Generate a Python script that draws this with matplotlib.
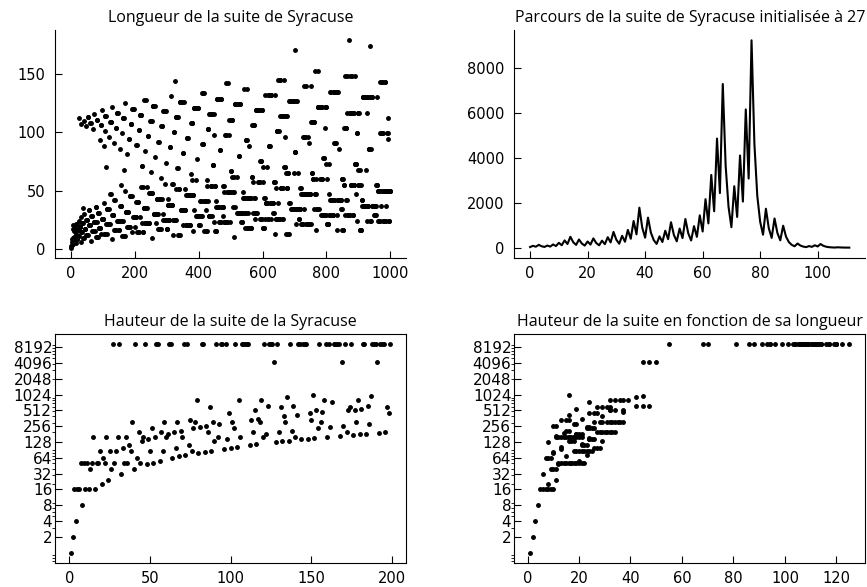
import matplotlib
matplotlib.use('Agg')
import matplotlib.pyplot as plt

# longueur (nombre de termes) de la suite pour n = 1 .. 999
longueurs = [
    1, 2, 8, 3, 6, 9, 17, 4, 20, 7,
    15, 10, 10, 18, 18, 5, 13, 21, 21, 8,
    8, 16, 16, 11, 24, 11, 112, 19, 19, 19,
    107, 6, 27, 14, 14, 22, 22, 22, 35, 9,
    110, 9, 30, 17, 17, 17, 105, 12, 25, 25,
    25, 12, 12, 113, 113, 20, 33, 20, 33, 20,
    20, 108, 108, 7, 28, 28, 28, 15, 15, 15,
    103, 23, 116, 23, 15, 23, 23, 36, 36, 10,
    23, 111, 111, 10, 10, 31, 31, 18, 31, 18,
    93, 18, 18, 106, 106, 13, 119, 26, 26, 26,
    26, 26, 88, 13, 39, 13, 101, 114, 114, 114,
    70, 21, 13, 34, 34, 21, 21, 34, 34, 21,
    96, 21, 47, 109, 109, 109, 47, 8, 122, 29,
    29, 29, 29, 29, 42, 16, 91, 16, 42, 16,
    16, 104, 104, 24, 117, 117, 117, 24, 24, 16,
    16, 24, 37, 24, 86, 37, 37, 37, 55, 11,
    99, 24, 24, 112, 112, 112, 68, 11, 50, 11,
    125, 32, 32, 32, 81, 19, 32, 32, 32, 19,
    19, 94, 94, 19, 45, 19, 45, 107, 107, 107,
    45, 14, 120, 120, 120, 27, 27, 27, 120, 27,
    19, 27, 40, 27, 27, 89, 89, 14, 40, 40,
    40, 14, 14, 102, 102, 115, 27, 115, 53, 115,
    115, 71, 71, 22, 53, 14, 14, 35, 35, 35,
    128, 22, 84, 22, 128, 35, 35, 35, 53, 22,
    22, 97, 97, 22, 22, 48, 48, 110, 48, 110,
    66, 110, 110, 48, 48, 9, 123, 123, 123, 30,
    30, 30, 79, 30, 123, 30, 22, 30, 30, 43,
    43, 17, 30, 92, 92, 17, 17, 43, 43, 17,
    43, 17, 61, 105, 105, 105, 43, 25, 30, 118,
    118, 118, 118, 118, 56, 25, 74, 25, 118, 17,
    17, 17, 43, 25, 38, 38, 38, 25, 25, 87,
    87, 38, 131, 38, 38, 38, 38, 56, 56, 12,
    25, 100, 100, 25, 25, 25, 144, 113, 51, 113,
    25, 113, 113, 69, 69, 12, 113, 51, 51, 12,
    12, 126, 126, 33, 126, 33, 126, 33, 33, 82,
    82, 20, 126, 33, 33, 33, 33, 33, 51, 20,
    46, 20, 46, 95, 95, 95, 46, 20, 20, 46,
    46, 20, 20, 46, 46, 108, 64, 108, 59, 108,
    108, 46, 46, 15, 33, 121, 121, 121, 121, 121,
    121, 28, 59, 28, 77, 28, 28, 121, 121, 28,
    20, 20, 20, 28, 28, 41, 41, 28, 41, 28,
    134, 90, 90, 90, 134, 15, 134, 41, 41, 41,
    41, 41, 33, 15, 59, 15, 54, 103, 103, 103,
    41, 116, 28, 28, 28, 116, 116, 54, 54, 116,
    28, 116, 54, 72, 72, 72, 98, 23, 116, 54,
    54, 15, 15, 15, 41, 36, 129, 36, 129, 36,
    36, 129, 129, 23, 36, 85, 85, 23, 23, 129,
    129, 36, 36, 36, 28, 36, 36, 54, 54, 23,
    49, 23, 23, 98, 98, 98, 142, 23, 49, 23,
    142, 49, 49, 49, 98, 111, 23, 49, 49, 111,
    111, 67, 67, 111, 62, 111, 36, 49, 49, 49,
    62, 10, 36, 124, 124, 124, 124, 124, 62, 31,
    124, 31, 124, 31, 31, 80, 80, 31, 31, 124,
    124, 31, 31, 23, 23, 31, 23, 31, 49, 44,
    44, 44, 137, 18, 44, 31, 31, 93, 93, 93,
    44, 18, 137, 18, 31, 44, 44, 44, 88, 18,
    44, 44, 44, 18, 18, 62, 62, 106, 57, 106,
    31, 106, 106, 44, 44, 26, 31, 31, 31, 119,
    119, 119, 31, 119, 57, 119, 119, 119, 119, 57,
    57, 26, 75, 75, 75, 26, 26, 119, 119, 18,
    57, 18, 70, 18, 18, 44, 44, 26, 132, 39,
    39, 39, 39, 39, 70, 26, 132, 26, 132, 88,
    88, 88, 132, 39, 26, 132, 132, 39, 39, 39,
    39, 39, 31, 39, 31, 57, 57, 57, 132, 13,
    52, 26, 26, 101, 101, 101, 39, 26, 145, 26,
    101, 26, 26, 145, 145, 114, 52, 52, 52, 114,
    114, 26, 26, 114, 52, 114, 145, 70, 70, 70,
    96, 13, 65, 114, 114, 52, 52, 52, 65, 13,
    65, 13, 39, 127, 127, 127, 39, 34, 127, 127,
    127, 34, 34, 127, 127, 34, 127, 34, 65, 83,
    83, 83, 171, 21, 34, 127, 127, 34, 34, 34,
    65, 34, 26, 34, 26, 34, 34, 52, 52, 21,
    47, 47, 47, 21, 21, 47, 47, 96, 34, 96,
    140, 96, 96, 47, 47, 21, 140, 21, 21, 47,
    47, 47, 96, 21, 91, 21, 47, 47, 47, 47,
    140, 109, 21, 65, 65, 109, 109, 60, 60, 109,
    34, 109, 153, 47, 47, 47, 60, 16, 34, 34,
    34, 122, 122, 122, 153, 122, 34, 122, 60, 122,
    122, 122, 122, 29, 122, 60, 60, 29, 29, 78,
    78, 29, 78, 29, 104, 122, 122, 122, 73, 29,
    60, 21, 21, 21, 21, 21, 73, 29, 47, 29,
    135, 42, 42, 42, 135, 29, 42, 42, 42, 29,
    29, 135, 135, 91, 135, 91, 42, 91, 91, 135,
    135, 16, 29, 135, 135, 42, 42, 42, 86, 42,
    42, 42, 42, 42, 42, 34, 34, 16, 60, 60,
    60, 16, 16, 55, 55, 104, 29, 104, 148, 104,
    104, 42, 42, 117, 148, 29, 29, 29, 29, 29,
    179, 117, 148, 117, 29, 55, 55, 55, 148, 117,
    117, 29, 29, 117, 117, 55, 55, 73, 148, 73,
    47, 73, 73, 99, 99, 24, 68, 117, 117, 55,
    55, 55, 117, 16, 68, 16, 55, 16, 16, 42,
    42, 37, 130, 130, 130, 37, 37, 130, 130, 37,
    130, 37, 68, 130, 130, 130, 117, 24, 130, 37,
    37, 86, 86, 86, 130, 24, 174, 24, 86, 130,
    130, 130, 37, 37, 37, 37, 37, 37, 37, 29,
    29, 37, 29, 37, 29, 55, 55, 55, 130, 24,
    50, 50, 50, 24, 24, 24, 143, 99, 50, 99,
    37, 99, 99, 143, 143, 24, 99, 50, 50, 24,
    24, 143, 143, 50, 24, 50, 37, 50, 50, 99,
    99, 112, 94, 24, 24, 50, 50, 50, 50,
]
entiers = list(range(1, 1000))

# parcours de la suite initialisee a 27
parcours_27 = [
    27, 82, 41, 124, 62, 31, 94, 47, 142, 71, 214, 107, 322, 161, 484, 242,
    121, 364, 182, 91, 274, 137, 412, 206, 103, 310, 155, 466, 233, 700, 350,
    175, 526, 263, 790, 395, 1186, 593, 1780, 890, 445, 1336, 668, 334, 167,
    502, 251, 754, 377, 1132, 566, 283, 850, 425, 1276, 638, 319, 958, 479,
    1438, 719, 2158, 1079, 3238, 1619, 4858, 2429, 7288, 3644, 1822, 911,
    2734, 1367, 4102, 2051, 6154, 3077, 9232, 4616, 2308, 1154, 577, 1732,
    866, 433, 1300, 650, 325, 976, 488, 244, 122, 61, 184, 92, 46, 23, 70,
    35, 106, 53, 160, 80, 40, 20, 10, 5, 16, 8, 4, 2, 1,
]
etapes_27 = list(range(len(parcours_27)))

# hauteur (valeur maximale) pour n = 1 .. 199
hauteurs = [
    1, 2, 16, 4, 16, 16, 52, 8, 52, 16,
    52, 16, 40, 52, 160, 16, 52, 52, 88, 20,
    64, 52, 160, 24, 88, 40, 9232, 52, 88, 160,
    9232, 32, 100, 52, 160, 52, 112, 88, 304, 40,
    9232, 64, 196, 52, 136, 160, 9232, 48, 148, 88,
    232, 52, 160, 9232, 9232, 56, 196, 88, 304, 160,
    184, 9232, 9232, 64, 196, 100, 304, 68, 208, 160,
    9232, 72, 9232, 112, 340, 88, 232, 304, 808, 80,
    244, 9232, 9232, 84, 256, 196, 592, 88, 304, 136,
    9232, 160, 280, 9232, 9232, 96, 9232, 148, 448, 100,
    304, 232, 9232, 104, 808, 160, 9232, 9232, 9232, 9232,
    9232, 112, 340, 196, 520, 116, 352, 304, 808, 160,
    9232, 184, 628, 9232, 9232, 9232, 4372, 128, 9232, 196,
    592, 132, 400, 304, 916, 136, 9232, 208, 628, 160,
    424, 9232, 9232, 144, 9232, 9232, 9232, 148, 448, 340,
    1024, 152, 520, 232, 9232, 304, 472, 808, 9232, 160,
    9232, 244, 736, 9232, 9232, 9232, 9232, 168, 4372, 256,
    9232, 196, 520, 592, 9232, 176, 532, 304, 808, 180,
    544, 9232, 9232, 184, 628, 280, 952, 9232, 9232, 9232,
    4372, 192, 9232, 9232, 9232, 196, 592, 448, 9232,
]
entiers_h = list(range(1, 200))
longueurs_h = longueurs[:199]

puissances = [2, 4, 8, 16, 32, 64, 128, 256, 512, 1024, 2048, 4096, 8192]

plt.rcParams['font.family'] = ['DejaVu Sans']
fig = plt.figure(figsize=(8.67, 5.87), dpi=100)
ax1 = fig.add_axes([0.0634, 0.5605, 0.405, 0.3885])
ax2 = fig.add_axes([0.593, 0.5605, 0.405, 0.3885])
ax3 = fig.add_axes([0.0634, 0.0409, 0.405, 0.390])
ax4 = fig.add_axes([0.593, 0.0409, 0.405, 0.390])

ax1.plot(entiers, longueurs, 'k.', ms=5)
ax2.plot(etapes_27, parcours_27, 'k-', lw=1.5)
ax3.plot(entiers_h, hauteurs, 'k.', ms=5)
ax4.plot(longueurs_h, hauteurs, 'k.', ms=5)

ax1.set_yticks([0, 50, 100, 150])
# en haut : seulement les axes gauche et bas, graduations vers l'interieur
for ax in (ax1, ax2):
    ax.spines['top'].set_visible(False)
    ax.spines['right'].set_visible(False)
    ax.tick_params(direction='in', length=5, labelsize=10.5)
    ax.tick_params(axis='y', pad=7)
    ax.tick_params(axis='x', pad=6)
# en bas : echelle log avec les puissances de 2
for ax in (ax3, ax4):
    ax.set_yscale('log')
    ax.set_yticks(puissances)
    ax.set_yticklabels([str(p) for p in puissances])
    ax.tick_params(which='major', direction='in', length=5)
    ax.tick_params(which='minor', direction='out', length=2)
    ax.tick_params(axis='y', which='major', labelsize=11, pad=2)
    ax.tick_params(axis='x', labelsize=10.5, pad=6)

tfont = dict(family='Open Sans', fontsize=11.5)
ax1.set_title('Longueur de la suite de Syracuse', **tfont)
ax2.set_title('Parcours de la suite de Syracuse initialisée à 27', **tfont)
ax3.set_title('Hauteur de la suite de la Syracuse', **tfont)
ax4.set_title('Hauteur de la suite en fonction de sa longueur', **tfont)

fig.savefig('out.png')
